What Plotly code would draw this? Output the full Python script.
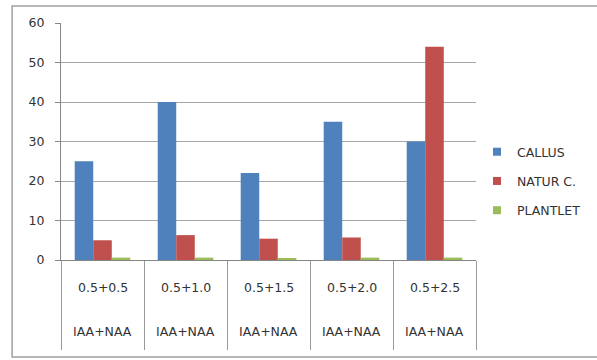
import plotly.graph_objects as go

categories = ["0.5+0.5", "0.5+1.0", "0.5+1.5", "0.5+2.0", "0.5+2.5"]
hormone = ["IAA+NAA", "IAA+NAA", "IAA+NAA", "IAA+NAA", "IAA+NAA"]
series_names = ["CALLUS", "NATUR C.", "PLANTLET"]
callus = [25, 40, 22, 35, 30]
natur_c = [5, 6.3, 5.4, 5.7, 54]
plantlet = [0.6, 0.6, 0.45, 0.6, 0.6]
y_ticks = [0, 10, 20, 30, 40, 50, 60]

colors = ["#4F81BD", "#C0504D", "#9BBB59"]
FONT = "DejaVu Sans"
TXT = "#333333"

fig = go.Figure()
for name, vals, col in zip(series_names, [callus, natur_c, plantlet], colors):
    fig.add_trace(go.Bar(
        x=categories, y=vals, name=name, legendgroup=name, showlegend=False,
        marker=dict(color=col, line=dict(width=0)),
    ))
# legend entries with small square swatches
for name, col in zip(series_names, colors):
    fig.add_trace(go.Scatter(
        x=[None], y=[None], mode="markers", name=name, legendgroup=name,
        marker=dict(symbol="square", size=8, color=col),
    ))

annotations = []
for c, h in zip(categories, hormone):
    annotations.append(dict(x=c, xref="x", y=-0.114, yref="paper", text=c,
                            showarrow=False, font=dict(family=FONT, size=12.5, color=TXT),
                            xanchor="center", yanchor="middle"))
    annotations.append(dict(x=c, xref="x", y=-0.30, yref="paper", text=h,
                            showarrow=False, font=dict(family=FONT, size=12.5, color=TXT),
                            xanchor="center", yanchor="middle"))

fig.update_layout(
    width=597, height=360,
    margin=dict(l=61, r=120, t=23, b=100),
    paper_bgcolor="white", plot_bgcolor="white",
    barmode="group", bargap=0.33, bargroupgap=0,
    font=dict(family=FONT, size=12.5, color=TXT),
    showlegend=True,
    legend=dict(x=1.0, xanchor="left", xref="paper", y=0.333, yanchor="middle",
                font=dict(family=FONT, size=12.5, color=TXT),
                tracegroupgap=10, traceorder="grouped", bgcolor="rgba(0,0,0,0)"),
    xaxis=dict(type="category", showticklabels=False, tickson="boundaries",
               ticks="outside", ticklen=89, tickcolor="#9a9a9a", tickwidth=1,
               showline=True, linecolor="#868686", linewidth=1, showgrid=False,
               zeroline=False),
    yaxis=dict(range=[0, 60], tickvals=y_ticks, ticks="outside", ticklen=5,
               tickcolor="#868686", showline=True, linecolor="#868686", linewidth=1,
               showgrid=True, gridcolor="#a6a6a6", gridwidth=1, zeroline=False,
               ticklabelstandoff=8, tickfont=dict(family=FONT, size=12.5, color=TXT)),
    annotations=annotations,
    shapes=[dict(type="rect", xref="paper", yref="paper", x0=-0.1178, x1=1.3,
                 y0=-0.409, y1=1.0717, line=dict(color="#a0a0a0", width=1.5),
                 fillcolor="rgba(0,0,0,0)", layer="below")],
)

fig.write_html("out.html")
